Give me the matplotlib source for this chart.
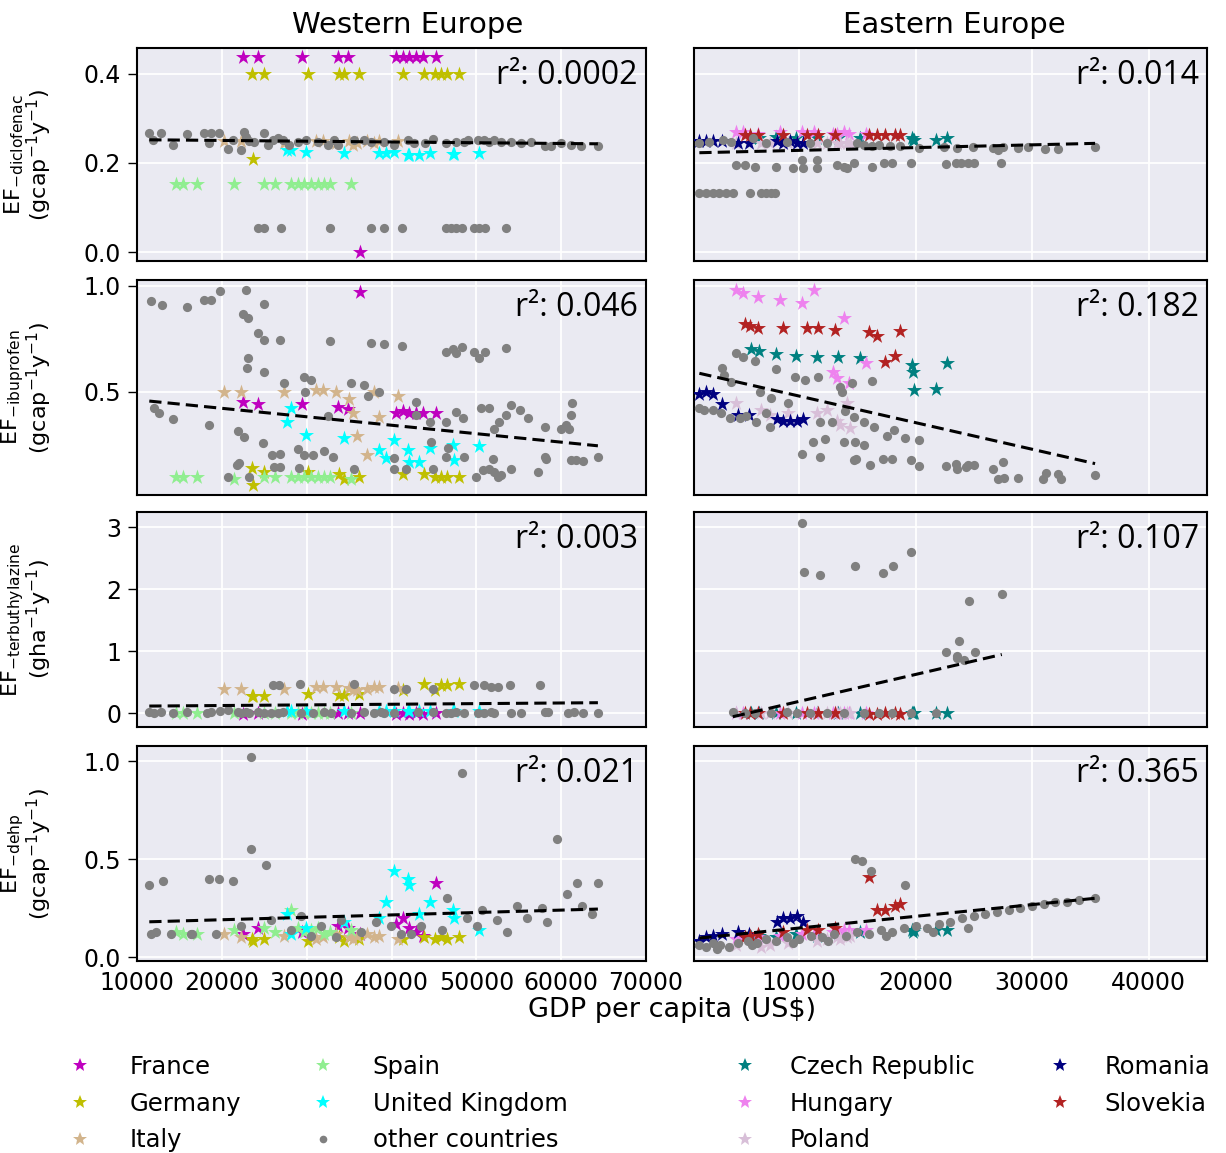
import matplotlib
matplotlib.use("Agg")
import matplotlib.pyplot as plt
from matplotlib.lines import Line2D

# ---------------- Western Europe ----------------
west_names = ["France", "Germany", "Italy", "Spain", "United Kingdom"]
west_colors = ["m", "#BFBF00", "tan", "lightgreen", "cyan"]

france_gdp = [22460, 24230, 29460, 33660, 34840, 36340, 40540, 41330, 42120, 42900, 43690, 45260]
france_dic = [0.437, 0.437, 0.437, 0.437, 0.437, 0.0, 0.437, 0.437, 0.437, 0.437, 0.437, 0.437]
france_ibu = [0.45, 0.44, 0.44, 0.43, 0.42, 0.97, 0.40, 0.41, 0.40, 0.40, 0.40, 0.40]
france_ter = [-0.01, 0.0, -0.01, 0.0, 0.0, 0.0, -0.01, 0.0, -0.01, 0.0, -0.01, 0.0]
france_dehp = [0.12, 0.15, 0.13, 0.16, 0.15, 0.12, 0.17, 0.20, 0.15, 0.13, 0.11, 0.38]

germany_gdp = [23520, 23640, 25020, 30200, 33860, 34450, 36220, 41330, 43810, 45140, 45850, 46560, 48010]
germany_dic = [0.40, 0.21, 0.40, 0.40, 0.40, 0.40, 0.40, 0.40, 0.40, 0.40, 0.40, 0.40, 0.40]
germany_ibu = [0.14, 0.06, 0.12, 0.12, 0.11, 0.09, 0.10, 0.11, 0.11, 0.10, 0.10, 0.10, 0.10]
germany_ter = [0.28, 0.28, 0.28, 0.31, 0.29, 0.30, 0.31, 0.38, 0.48, 0.38, 0.45, 0.46, 0.48]
germany_dehp = [0.09, 0.08, 0.09, 0.08, 0.10, 0.08, 0.09, 0.09, 0.10, 0.09, 0.10, 0.09, 0.10]

italy_gdp = [20300, 22260, 27370, 31110, 31900, 33470, 35040, 35430, 35940, 37120, 37910, 38580, 40740]
italy_dic = [0.25, 0.25, 0.245, 0.25, 0.25, 0.245, 0.25, 0.24, 0.245, 0.25, 0.245, 0.25, 0.25]
italy_ibu = [0.50, 0.50, 0.50, 0.51, 0.51, 0.50, 0.465, 0.40, 0.29, 0.20, 0.50, 0.38, 0.48]
italy_ter = [0.39, 0.40, 0.40, 0.43, 0.43, 0.43, 0.41, 0.37, 0.37, 0.40, 0.43, 0.43, 0.41]
italy_dehp = [0.12, 0.10, 0.11, 0.09, 0.10, 0.12, 0.10, 0.09, 0.11, 0.12, 0.10, 0.11, 0.09]

spain_gdp = [14600, 15390, 17080, 21480, 24940, 26270, 28160, 28950, 29730, 30520, 31300, 32090, 32800, 35240]
spain_dic = [0.153, 0.153, 0.153, 0.153, 0.153, 0.153, 0.153, 0.153, 0.153, 0.153, 0.153, 0.153, 0.153, 0.153]
spain_ibu = [0.10, 0.10, 0.10, 0.09, 0.10, 0.10, 0.10, 0.10, 0.10, 0.10, 0.10, 0.10, 0.10, 0.09]
spain_ter = [0.01, 0.01, 0.01, 0.01, 0.01, 0.01, 0.01, 0.01, 0.01, 0.01, 0.01, 0.01, 0.01, 0.01]
spain_dehp = [0.13, 0.12, 0.12, 0.14, 0.15, 0.13, 0.24, 0.15, 0.13, 0.14, 0.15, 0.12, 0.13, 0.14]

uk_gdp = [27690, 28160, 29930, 34450, 38580, 39370, 40270, 41920, 42120, 43300, 44480, 47230, 47350, 50370]
uk_dic = [0.23, 0.23, 0.225, 0.223, 0.222, 0.222, 0.224, 0.218, 0.218, 0.218, 0.222, 0.22, 0.22, 0.222]
uk_ibu = [0.358, 0.421, 0.298, 0.282, 0.224, 0.188, 0.271, 0.224, 0.169, 0.169, 0.235, 0.251, 0.177, 0.244]
uk_ter = [0.04, 0.04, 0.04, 0.04, 0.04, 0.04, 0.04, 0.04, 0.04, 0.04, 0.04, 0.04, 0.04, 0.04]
uk_dehp = [0.22, 0.12, 0.15, 0.18, 0.20, 0.28, 0.44, 0.40, 0.37, 0.22, 0.28, 0.24, 0.20, 0.14]

# other western countries, per panel
w_other_dic_x = [11450, 11850, 12830, 14210, 15900, 17860, 18730, 18530, 19710, 20690, 21280, 22260, 22660,
                 22850, 23250, 23840, 24940, 25410, 26000, 26590, 27180, 27960, 28950, 29930, 31310, 32490,
                 33270, 33660, 35630, 36810, 37600, 39170, 40350, 41920, 42710, 43890, 44870, 46440, 47620,
                 48600, 49000, 50180, 50960, 51550, 52140, 52930, 54110, 55290, 56470, 58040, 58820, 60000,
                 61180, 62360, 64330,
                 24230, 24940, 26980, 32800, 37600, 39090, 41210, 46440, 47030, 47620, 48290, 49780, 50370,
                 51040, 53520]
w_other_dic_y = [0.268, 0.252, 0.268, 0.240, 0.264, 0.268, 0.268, 0.244, 0.268, 0.231, 0.252, 0.229, 0.270,
                 0.259, 0.249, 0.248, 0.268, 0.240, 0.252, 0.255, 0.252, 0.240, 0.248, 0.252, 0.248, 0.240,
                 0.252, 0.240, 0.252, 0.252, 0.248, 0.248, 0.240, 0.252, 0.244, 0.244, 0.253, 0.244, 0.248,
                 0.248, 0.252, 0.252, 0.252, 0.248, 0.252, 0.248, 0.248, 0.244, 0.248, 0.237, 0.237, 0.244,
                 0.240, 0.237, 0.237,
                 0.055, 0.055, 0.055, 0.055, 0.055, 0.055, 0.055, 0.055, 0.055, 0.055, 0.055, 0.055, 0.055,
                 0.055, 0.055]

w_other_ibu_x = [11650, 12910, 15900, 17940, 18730, 19830, 22850, 24940, 22460, 23130, 24230, 24940, 26900,
                 32800, 37600, 39090, 41210, 46440, 47230, 47620, 48290, 49780, 50370, 51040, 53520, 23050,
                 22970, 24940, 27300, 29730, 30520, 35240, 36810, 38580, 37280, 29810, 32490, 12040, 12630,
                 14210, 18530, 21950, 22660, 24820, 28950, 29650, 30720, 32010, 33070, 25880, 26900, 26200,
                 26900, 21790, 22070, 20690, 23250, 29140, 35630, 40350, 40350, 41720, 44870, 44670, 44480,
                 42900, 42900, 46440, 46640, 46440, 47620, 48410, 48600, 50570, 51550, 52140, 52730, 53520,
                 54110, 55090, 56070, 58040, 60000, 60590, 60980, 61180, 61260, 51940, 54110, 49980, 50770,
                 51550, 52140, 52530, 52930, 57250, 58040, 58230, 61180, 61770, 62560, 64330]
w_other_ibu_y = [0.929, 0.907, 0.902, 0.934, 0.934, 0.973, 0.981, 0.913, 0.866, 0.850, 0.776, 0.745, 0.745,
                 0.737, 0.729, 0.724, 0.718, 0.689, 0.702, 0.681, 0.713, 0.689, 0.658, 0.686, 0.708, 0.661,
                 0.614, 0.595, 0.539, 0.571, 0.555, 0.539, 0.532, 0.500, 0.481, 0.500, 0.387, 0.424, 0.402,
                 0.371, 0.342, 0.314, 0.287, 0.256, 0.229, 0.204, 0.200, 0.219, 0.193, 0.200, 0.205, 0.145,
                 0.145, 0.156, 0.166, 0.098, 0.098, 0.141, 0.134, 0.188, 0.134, 0.137, 0.137, 0.263, 0.355,
                 0.450, 0.390, 0.355, 0.235, 0.193, 0.405, 0.374, 0.193, 0.424, 0.424, 0.323, 0.358, 0.390,
                 0.437, 0.413, 0.377, 0.334, 0.323, 0.345, 0.323, 0.390, 0.445, 0.185, 0.134, 0.098, 0.129,
                 0.137, 0.122, 0.098, 0.106, 0.122, 0.193, 0.185, 0.177, 0.177, 0.172, 0.193]

w_other_ter_x = [11450, 12040, 12830, 14210, 15900, 18260, 18730, 19830, 20690, 21870, 22260, 22850, 23250,
                 24230, 24940, 25800, 26590, 27180, 29340, 30720, 32090, 32880, 35240, 36810, 37990, 38770,
                 39170, 40350, 43100, 44870, 46440, 47030, 47620, 48600, 50180, 50960, 51750, 52140, 54110,
                 55290, 58040, 58430, 60790, 61570, 62560, 64330,
                 26000, 26790, 29260, 35630, 40350, 41720, 44870, 49780, 50960, 51750, 52530, 53910, 57450]
w_other_ter_y = [0.03, 0.01, 0.02, 0.0, 0.02, 0.01, 0.03, 0.04, 0.05, 0.02, 0.01, 0.03, 0.0,
                 0.02, 0.01, 0.0, 0.01, 0.02, 0.0, 0.0, 0.02, 0.01, 0.0, 0.02, 0.01, 0.02,
                 0.0, 0.01, 0.02, 0.03, 0.0, 0.01, 0.02, 0.0, 0.01, 0.0, 0.02, 0.0, 0.01,
                 0.0, 0.02, 0.03, 0.01, 0.02, 0.0, 0.0,
                 0.45, 0.45, 0.48, 0.48, 0.39, 0.40, 0.39, 0.45, 0.45, 0.43, 0.43, 0.45, 0.45]

w_other_dehp_x = [11420, 13070, 18500, 19680, 21340, 11650, 16380, 19330, 23460, 23460, 25230, 22280, 25820,
                  28190, 29370, 31730, 34090, 36450, 38220, 39990, 41170, 43530, 45900, 48260, 48850, 50620,
                  52390, 53570, 55930, 57700, 59480, 60660, 61840, 62430, 63610, 64330, 30550, 33500, 42350,
                  46490, 50030, 54760, 58300, 12200, 14000, 16500]
w_other_dehp_y = [0.37, 0.39, 0.40, 0.40, 0.39, 0.12, 0.12, 0.12, 1.02, 0.55, 0.47, 0.16, 0.19,
                  0.14, 0.21, 0.16, 0.19, 0.13, 0.18, 0.16, 0.12, 0.16, 0.14, 0.94, 0.20, 0.24,
                  0.19, 0.13, 0.20, 0.25, 0.60, 0.32, 0.38, 0.26, 0.22, 0.38, 0.11, 0.10, 0.12,
                  0.30, 0.16, 0.26, 0.18, 0.13, 0.12, 0.12]

# ---------------- Eastern Europe ----------------
east_names = ["Czech Republic", "Hungary", "Poland", "Romania", "Slovekia"]
east_colors = ["teal", "violet", "thistle", "navy", "firebrick"]

czech_gdp = [5920, 6580, 8070, 9740, 11520, 13390, 15210, 19720, 19810, 19860, 21730, 22740]
czech_dic = [0.255, 0.255, 0.258, 0.255, 0.255, 0.255, 0.256, 0.255, 0.252, 0.252, 0.252, 0.255]
czech_ibu = [0.70, 0.69, 0.68, 0.67, 0.666, 0.666, 0.658, 0.626, 0.592, 0.508, 0.513, 0.634]
czech_ter = [0.0, 0.0, 0.0, 0.0, 0.0, 0.0, 0.0, 0.0, 0.0, 0.0, 0.0, 0.0]
czech_dehp = [0.10, 0.11, 0.10, 0.12, 0.11, 0.12, 0.13, 0.14, 0.13, 0.14, 0.14, 0.14]

hungary_gdp = [4620, 5200, 6490, 8360, 10230, 11290, 12960, 13250, 13830, 14260, 15780]
hungary_dic = [0.27, 0.27, 0.265, 0.27, 0.27, 0.27, 0.265, 0.265, 0.27, 0.265, 0.265]
hungary_ibu = [0.98, 0.965, 0.945, 0.934, 0.918, 0.98, 0.595, 0.563, 0.847, 0.539, 0.634]
hungary_ter = [0.0, 0.0, 0.0, 0.0, 0.0, 0.0, 0.0, 0.0, 0.0, 0.0, 0.0]
hungary_dehp = [0.09, 0.10, 0.10, 0.11, 0.12, 0.12, 0.13, 0.13, 0.14, 0.14, 0.14]

poland_gdp = [4620, 6780, 7500, 9080, 11520, 12390, 13250, 13540, 14110, 14400]
poland_dic = [0.244, 0.244, 0.244, 0.244, 0.244, 0.244, 0.244, 0.244, 0.244, 0.244]
poland_ibu = [0.445, 0.413, 0.39, 0.40, 0.40, 0.413, 0.36, 0.342, 0.445, 0.33]
poland_ter = [0.01, 0.0, 0.0, 0.0, 0.0, 0.0, 0.0, 0.0, 0.0, 0.0]
poland_dehp = [0.06, 0.05, 0.06, 0.07, 0.08, 0.09, 0.10, 0.09, 0.10, 0.11]

romania_gdp = [1460, 2030, 2670, 3410, 4770, 5710, 8130, 8650, 9220, 9800, 10370]
romania_dic = [0.25, 0.25, 0.25, 0.25, 0.244, 0.244, 0.25, 0.244, 0.25, 0.244, 0.245]
romania_ibu = [0.49, 0.50, 0.49, 0.44, 0.39, 0.39, 0.37, 0.36, 0.36, 0.36, 0.37]
romania_ter = [None, None, None, None, None, None, None, None, None, None, None]
romania_dehp = [0.08, 0.10, 0.11, 0.12, 0.13, 0.12, 0.18, 0.20, 0.20, 0.21, 0.18]

slovakia_gdp = [5340, 5770, 6490, 8650, 10660, 11670, 13110, 15980, 16700, 17420, 18280, 18660]
slovakia_dic = [0.263, 0.263, 0.263, 0.263, 0.263, 0.263, 0.263, 0.263, 0.263, 0.263, 0.263, 0.263]
slovakia_ibu = [0.82, 0.81, 0.80, 0.80, 0.80, 0.80, 0.79, 0.78, 0.765, 0.64, 0.67, 0.785]
slovakia_ter = [0.0, 0.0, 0.0, 0.0, 0.0, 0.0, 0.0, -0.01, -0.01, 0.0, 0.0, -0.01]
slovakia_dehp = [0.10, 0.11, 0.12, 0.13, 0.14, 0.14, 0.15, 0.41, 0.24, 0.24, 0.26, 0.27]

e_other_dic_x = [1460, 2320, 3470, 4190, 6060, 7210, 8940, 10950, 12390, 14980, 15550, 16270, 16840, 17850,
                 18710, 20300, 22450, 23600, 24900, 26620, 27050, 27490, 28780, 29640, 31080, 32230, 35400,
                 4620, 5340, 6200, 8020, 9510, 10230, 10370, 11520, 11520, 13250, 13830, 14110, 14690, 16270,
                 17280, 18000, 19580, 22600, 23460, 23890, 24470, 25040, 27340,
                 1460, 2030, 2610, 3180, 3760, 4330, 5770, 6780, 7210, 7640, 7930]
e_other_dic_y = [0.244, 0.248, 0.252, 0.248, 0.255, 0.244, 0.248, 0.244, 0.244, 0.244, 0.240, 0.237, 0.240,
                 0.237, 0.238, 0.233, 0.235, 0.233, 0.235, 0.233, 0.229, 0.235, 0.233, 0.235, 0.231, 0.231,
                 0.235,
                 0.196, 0.196, 0.192, 0.190, 0.188, 0.207, 0.188, 0.207, 0.188, 0.196, 0.190, 0.188, 0.199,
                 0.190, 0.201, 0.201, 0.201, 0.198, 0.201, 0.199, 0.201, 0.201, 0.201,
                 0.133, 0.133, 0.133, 0.133, 0.133, 0.133, 0.133, 0.133, 0.133, 0.133, 0.133]

e_other_ibu_x = [4620, 5200, 6200, 3410, 3560, 4190, 8070, 9650, 10510, 11670, 13540, 13680, 14540, 16270,
                 1460, 1890, 2610, 3330, 4050, 4910, 5480, 6340, 6630, 7640, 7500, 9080, 7210, 11810, 12820,
                 13970, 15550, 14690, 16410, 17560, 18140, 19140, 20300, 11230, 12250, 13830, 14830, 15550,
                 10230, 11810, 14690, 14920, 16120, 17180, 17990, 19580, 20300, 22600, 23460, 23600, 24470,
                 25040, 24330, 26620, 27490, 27050, 27630, 28780, 30930, 31160, 32230, 32460, 35400]
e_other_ibu_y = [0.681, 0.666, 0.645, 0.614, 0.579, 0.547, 0.607, 0.571, 0.555, 0.571, 0.524, 0.500, 0.539,
                 0.551, 0.421, 0.413, 0.413, 0.398, 0.374, 0.374, 0.386, 0.358, 0.497, 0.469, 0.334, 0.445,
                 0.398, 0.358, 0.358, 0.409, 0.358, 0.382, 0.334, 0.292, 0.319, 0.282, 0.271, 0.263, 0.279,
                 0.263, 0.263, 0.248, 0.208, 0.193, 0.177, 0.185, 0.156, 0.181, 0.181, 0.177, 0.150, 0.150,
                 0.161, 0.137, 0.156, 0.156, 0.145, 0.137, 0.169, 0.087, 0.093, 0.093, 0.087, 0.118, 0.114,
                 0.087, 0.109]

e_other_ter_x = [10230, 10430, 11810, 14770, 17210, 18050, 19630, 24610, 27400, 23750, 22600, 23550, 23550,
                 24130, 25110,
                 4330, 5340, 6200, 7640, 8940, 9800, 10950, 12390, 13830, 15550, 16840, 18000, 19580, 21730]
e_other_ter_y = [3.08, 2.285, 2.23, 2.376, 2.258, 2.376, 2.608, 1.81, 1.92, 1.167, 0.984, 0.93, 0.887,
                 0.86, 0.984,
                 0.02, 0.0, 0.01, 0.0, 0.02, 0.0, 0.01, 0.0, 0.0, 0.01, 0.0, 0.0, 0.0, 0.0]

e_other_dehp_x = [1460, 2030, 2600, 3200, 4000, 4800, 5600, 6400, 7200, 8000, 9000, 10000, 11000, 12000,
                  13000, 14000, 15000, 16000, 17000, 18000, 19000, 20000, 21000, 22000, 23000, 24000,
                  25000, 26000, 27000, 28000, 29000, 30000, 31000, 32000, 33000, 34000, 35400,
                  14800, 15400, 16200, 19100, 3000, 6000, 9500, 12500, 17500, 21500, 24500]
e_other_dehp_y = [0.06, 0.05, 0.07, 0.06, 0.05, 0.07, 0.08, 0.07, 0.09, 0.08, 0.10, 0.09, 0.11, 0.10,
                  0.12, 0.11, 0.13, 0.12, 0.14, 0.13, 0.15, 0.16, 0.15, 0.17, 0.18, 0.20, 0.21, 0.22,
                  0.23, 0.24, 0.25, 0.26, 0.27, 0.28, 0.28, 0.29, 0.30,
                  0.50, 0.49, 0.44, 0.37, 0.04, 0.06, 0.07, 0.08, 0.11, 0.13, 0.15]

# trend lines (start / end of fitted line)
w_trend_x = [11450, 64330]
w_trend_y = {"dic": [0.252, 0.243], "ibu": [0.456, 0.245], "ter": [0.118, 0.172], "dehp": [0.18, 0.245]}
e_trend_x = {"dic": [1460, 35400], "ibu": [1460, 35400], "ter": [4330, 27400], "dehp": [1460, 35400]}
e_trend_y = {"dic": [0.223, 0.244], "ibu": [0.587, 0.161], "ter": [-0.054, 0.95], "dehp": [0.097, 0.30]}

r2_west = ["0.0002", "0.046", "0.003", "0.021"]
r2_east = ["0.014", "0.182", "0.107", "0.365"]

ylabels = [r"EF$_{\mathregular{-diclofenac}}$" + "\n" + r"(gcap$^{\mathregular{-1}}$y$^{\mathregular{-1}}$)",
           r"EF$_{\mathregular{-ibuprofen}}$" + "\n" + r"(gcap$^{\mathregular{-1}}$y$^{\mathregular{-1}}$)",
           r"EF$_{\mathregular{-terbuthylazine}}$" + "\n" + r"(gha$^{\mathregular{-1}}$y$^{\mathregular{-1}}$)",
           r"EF$_{\mathregular{-dehp}}$" + "\n" + r"(gcap$^{\mathregular{-1}}$y$^{\mathregular{-1}}$)"]
ylims = [(-0.02, 0.458), (0.013, 1.027), (-0.22, 3.25), (-0.02, 1.077)]
yticks = [[0.0, 0.2, 0.4], [0.5, 1.0], [0, 1, 2, 3], [0.0, 0.5, 1.0]]
yticklabels = [["0.0", "0.2", "0.4"], ["0.5", "1.0"], ["0", "1", "2", "3"], ["0.0", "0.5", "1.0"]]
west_xticks = [10000, 20000, 30000, 40000, 50000, 60000, 70000]
east_xticks = [10000, 20000, 30000, 40000]

west_data = [
    (france_gdp, [france_dic, france_ibu, france_ter, france_dehp]),
    (germany_gdp, [germany_dic, germany_ibu, germany_ter, germany_dehp]),
    (italy_gdp, [italy_dic, italy_ibu, italy_ter, italy_dehp]),
    (spain_gdp, [spain_dic, spain_ibu, spain_ter, spain_dehp]),
    (uk_gdp, [uk_dic, uk_ibu, uk_ter, uk_dehp]),
]
east_data = [
    (czech_gdp, [czech_dic, czech_ibu, czech_ter, czech_dehp]),
    (hungary_gdp, [hungary_dic, hungary_ibu, hungary_ter, hungary_dehp]),
    (poland_gdp, [poland_dic, poland_ibu, poland_ter, poland_dehp]),
    (romania_gdp, [romania_dic, romania_ibu, romania_ter, romania_dehp]),
    (slovakia_gdp, [slovakia_dic, slovakia_ibu, slovakia_ter, slovakia_dehp]),
]
w_other = [(w_other_dic_x, w_other_dic_y), (w_other_ibu_x, w_other_ibu_y),
           (w_other_ter_x, w_other_ter_y), (w_other_dehp_x, w_other_dehp_y)]
e_other = [(e_other_dic_x, e_other_dic_y), (e_other_ibu_x, e_other_ibu_y),
           (e_other_ter_x, e_other_ter_y), (e_other_dehp_x, e_other_dehp_y)]
keys = ["dic", "ibu", "ter", "dehp"]

# ---------------- drawing ----------------
plt.rcParams["font.family"] = ["DejaVu Sans"]
plt.rcParams["mathtext.fontset"] = "dejavusans"
fig = plt.figure(figsize=(12.26, 11.53), dpi=100)
W, H = 1226.0, 1153.0
col_px = [(137, 646), (694, 1207)]
row_px = [(48, 261), (280, 495), (512, 727), (746, 961)]

BG = "#EAEAF2"
STAR_S = 130
DOT_S = 44
TICK_FS = 17


def style(ax):
    ax.set_facecolor(BG)
    ax.grid(True, color="white", lw=1.3)
    ax.set_axisbelow(True)
    for sp in ax.spines.values():
        sp.set_color("black")
        sp.set_linewidth(1.5)


axes = []
for r in range(4):
    row_axes = []
    for c in range(2):
        x0, x1 = col_px[c]
        y0, y1 = row_px[r]
        ax = fig.add_axes([x0 / W, 1 - y1 / H, (x1 - x0) / W, (y1 - y0) / H])
        style(ax)
        row_axes.append(ax)
    axes.append(row_axes)

for r in range(4):
    axw, axe = axes[r]
    # west
    for (gdp, vals), col in zip(west_data, west_colors):
        axw.scatter(gdp, vals[r], marker="*", s=STAR_S, color=col, linewidths=0, zorder=3)
    axw.scatter(w_other[r][0], w_other[r][1], marker="o", s=DOT_S, color="gray", linewidths=0, zorder=4)
    axw.plot(w_trend_x, w_trend_y[keys[r]], ls=(0, (4, 2)), color="black", lw=2.2, zorder=5)
    # east
    for (gdp, vals), col in zip(east_data, east_colors):
        xs = [g for g, v in zip(gdp, vals[r]) if v is not None]
        ys = [v for v in vals[r] if v is not None]
        if xs:
            axe.scatter(xs, ys, marker="*", s=STAR_S, color=col, linewidths=0, zorder=3)
    axe.scatter(e_other[r][0], e_other[r][1], marker="o", s=DOT_S, color="gray", linewidths=0, zorder=4)
    axe.plot(e_trend_x[keys[r]], e_trend_y[keys[r]], ls=(0, (4, 2)), color="black", lw=2.2, zorder=5)

    for ax, txt in ((axw, r2_west[r]), (axe, r2_east[r])):
        ax.text(0.984, 0.95, "r\u00b2: " + txt, transform=ax.transAxes, ha="right", va="top",
                fontsize=23, family=["Open Sans", "DejaVu Sans"], zorder=6)

    for ax in (axw, axe):
        ax.set_ylim(*ylims[r])
        ax.set_yticks(yticks[r])
    axw.set_yticklabels(yticklabels[r], fontsize=TICK_FS)
    axe.set_yticklabels([])
    axw.tick_params(axis="y", length=6.5, width=1, color="black", pad=5)
    axe.tick_params(axis="y", length=0)

    axw.set_xlim(10000, 70000)
    axe.set_xlim(1000, 45000)
    axw.set_xticks(west_xticks)
    axe.set_xticks(east_xticks)
    if r == 3:
        axw.set_xticklabels([str(v) for v in west_xticks], fontsize=TICK_FS)
        axe.set_xticklabels([str(v) for v in east_xticks], fontsize=TICK_FS)
        axw.tick_params(axis="x", length=0, pad=7)
        axe.tick_params(axis="x", length=0, pad=7)
    else:
        axw.set_xticklabels([])
        axe.set_xticklabels([])
        axw.tick_params(axis="x", length=0)
        axe.tick_params(axis="x", length=0)

    axw.set_ylabel(ylabels[r], fontsize=16, linespacing=0.95)
    axw.yaxis.set_label_coords(-0.163, 0.5)

fig.text(408 / W, 1 - 25 / H, "Western Europe", ha="center", va="center", fontsize=21)
fig.text(954 / W, 1 - 25 / H, "Eastern Europe", ha="center", va="center", fontsize=21)
fig.text(672 / W, 1 - 1010 / H, "GDP per capita (US$)", ha="center", va="center", fontsize=19.5)

# legends
LEG_FS = 17.5
w_handles = [Line2D([], [], ls="", marker="*", markersize=10, color=c, markeredgewidth=0)
             for c in west_colors]
w_handles.append(Line2D([], [], ls="", marker="o", markersize=5.5, color="gray", markeredgewidth=0))
w_labels = west_names + ["other countries"]
e_handles = [Line2D([], [], ls="", marker="*", markersize=10, color=c, markeredgewidth=0)
             for c in east_colors]

fig.legend(w_handles, w_labels, ncol=2, loc="upper left", bbox_to_anchor=(40 / W, 1 - 1033 / H),
           frameon=False, fontsize=LEG_FS, handletextpad=1.3, columnspacing=2.6, labelspacing=0.52,
           handlelength=1.5)
fig.legend(e_handles, east_names, ncol=2, loc="upper left", bbox_to_anchor=(705 / W, 1 - 1033 / H),
           frameon=False, fontsize=LEG_FS, handletextpad=1.1, columnspacing=2.75, labelspacing=0.52,
           handlelength=1.5)

fig.savefig("out.png", dpi=100)
